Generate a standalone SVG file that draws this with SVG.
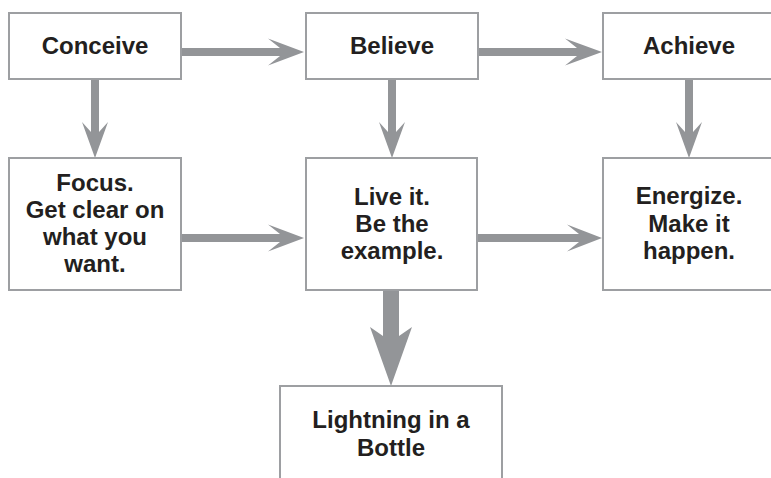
<svg xmlns="http://www.w3.org/2000/svg" width="771" height="478" viewBox="0 0 771 478">
<style>
.box{fill:#fff;stroke:#9d9fa2;stroke-width:2}
.t{font-family:"Liberation Sans",Arial,sans-serif;font-weight:bold;font-size:24px;fill:#231f20;text-anchor:middle}
.a{fill:#939598}
</style>
<g id="connectors">
<polygon class="a" points="181,48 280,48 268,38.5 304,52 268,65.5 280,56 181,56"/>
<polygon class="a" points="478,48 577,48 565,38.5 602,52 565,65.5 577,56 478,56"/>
<polygon class="a" points="181,234 280,234 268,224.5 304,238 268,251.5 280,242 181,242"/>
<polygon class="a" points="477,234 579,234 567,224.5 602,238 567,251.5 579,242 477,242"/>
<polygon class="a" points="91,79 91,132 82,122 95,158 108,122 99,132 99,79"/>
<polygon class="a" points="388,79 388,132 379,122 392,158 405,122 396,132 396,79"/>
<polygon class="a" points="685,79 685,132 676,122 689,158 702,122 693,132 693,79"/>
<polygon class="a" points="383,290 383,336 370,327 391,386 412,327 399,336 399,290"/>
</g>
<g id="conceive"><rect class="box" x="9" y="13" width="172" height="66"/><text class="t" x="95" y="54">Conceive</text></g>
<g id="believe"><rect class="box" x="306" y="13" width="172" height="66"/><text class="t" x="392" y="54">Believe</text></g>
<g id="achieve"><rect class="box" x="603" y="13" width="172" height="66"/><text class="t" x="689" y="54">Achieve</text></g>
<g id="focus"><rect class="box" x="9" y="158" width="172" height="132"/><text class="t"><tspan x="95" y="191">Focus.</tspan><tspan x="95" y="218">Get clear on</tspan><tspan x="95" y="245">what you</tspan><tspan x="95" y="272">want.</tspan></text></g>
<g id="live"><rect class="box" x="306" y="158" width="171" height="132"/><text class="t"><tspan x="392" y="205">Live it.</tspan><tspan x="392" y="232">Be the</tspan><tspan x="392" y="259">example.</tspan></text></g>
<g id="energize"><rect class="box" x="603" y="158" width="172" height="132"/><text class="t"><tspan x="689" y="204">Energize.</tspan><tspan x="689" y="232">Make it</tspan><tspan x="689" y="259">happen.</tspan></text></g>
<g id="lightning"><rect class="box" x="280" y="386" width="222" height="100"/><text class="t"><tspan x="391" y="428">Lightning in a</tspan><tspan x="391" y="456">Bottle</tspan></text></g>
</svg>
